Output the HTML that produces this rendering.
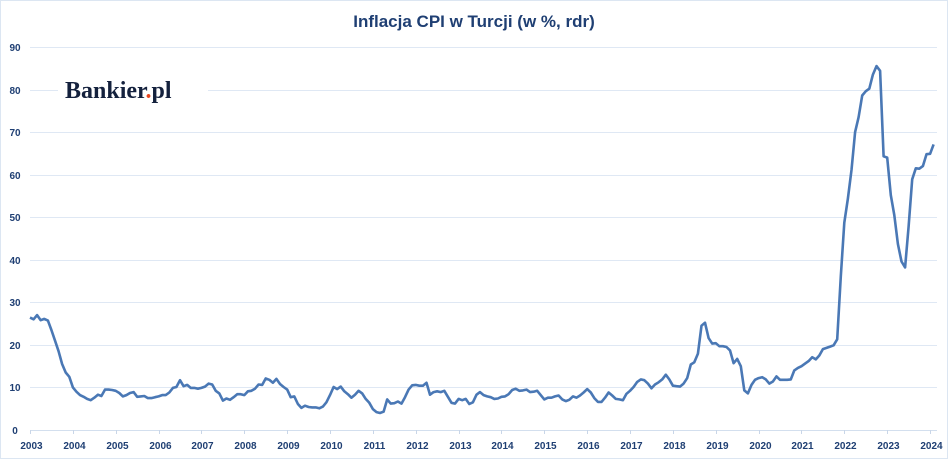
<!DOCTYPE html>
<html><head><meta charset="utf-8"><style>
html,body{margin:0;padding:0;background:#fff;}
body{width:948px;height:459px;overflow:hidden;}
</style></head><body>
<svg width="948" height="459" xmlns="http://www.w3.org/2000/svg" font-family="Liberation Sans, sans-serif">
<rect x="0.5" y="0.5" width="947" height="458" fill="#fff" stroke="#dce6f2"/>
<text x="474" y="27" text-anchor="middle" font-size="17" font-weight="bold" fill="#1f3f73">Inflacja CPI w Turcji (w %, rdr)</text>
<g id="grid" stroke="#dfe8f4" stroke-width="1"></g>
<g id="ylab" font-size="10" font-weight="bold" fill="#1f3f73" text-anchor="middle"></g>
<g id="xlab" font-size="10" font-weight="bold" fill="#1f3f73" text-anchor="middle"></g>
<rect x="58" y="72" width="150" height="34" fill="#fff"/>
<text x="65" y="98" font-family="Liberation Serif, serif" font-weight="bold" font-size="24" fill="#14213d">Bankier<tspan fill="#e8461e">.</tspan>pl</text>
<path id="line" fill="none" stroke="#4a78b5" stroke-width="2.6" stroke-linejoin="round"/>
</svg>
<script>
var d=[26.4,26.0,27.0,25.8,26.1,25.7,23.5,21,18.5,15.5,13.5,12.5,
10,9,8.2,7.8,7.3,7.0,7.6,8.3,8.0,9.5,9.5,9.4,
9.2,8.7,7.9,8.2,8.7,8.9,7.8,7.9,8.0,7.5,7.5,7.7,
7.9,8.2,8.2,8.8,9.9,10.1,11.7,10.3,10.6,9.9,9.9,9.7,
9.9,10.2,10.9,10.7,9.2,8.6,6.9,7.4,7.1,7.7,8.4,8.4,
8.2,9.1,9.2,9.7,10.7,10.6,12.1,11.8,11.1,12.0,10.8,10.1,
9.5,7.7,7.9,6.1,5.2,5.7,5.4,5.3,5.3,5.1,5.5,6.5,
8.2,10.1,9.6,10.2,9.1,8.4,7.6,8.3,9.2,8.6,7.3,6.4,
4.9,4.2,4.0,4.3,7.2,6.2,6.3,6.7,6.2,7.7,9.5,10.5,
10.6,10.4,10.4,11.1,8.3,8.9,9.1,8.9,9.2,7.8,6.4,6.2,
7.3,7.0,7.3,6.1,6.5,8.3,8.9,8.2,7.9,7.7,7.3,7.4,
7.8,7.9,8.4,9.4,9.7,9.2,9.3,9.5,8.9,9.0,9.2,8.2,
7.2,7.6,7.6,7.9,8.1,7.2,6.8,7.1,7.9,7.6,8.1,8.8,
9.6,8.8,7.5,6.6,6.6,7.6,8.8,8.1,7.3,7.2,7.0,8.5,
9.2,10.1,11.3,11.9,11.7,10.9,9.8,10.7,11.2,11.9,13.0,11.9,
10.4,10.3,10.2,10.9,12.2,15.4,15.9,17.9,24.5,25.2,21.6,20.3,
20.4,19.7,19.7,19.5,18.7,15.7,16.7,15.0,9.3,8.6,10.6,11.8,
12.2,12.4,11.9,10.9,11.4,12.6,11.8,11.8,11.8,11.9,14.0,14.6,
15.0,15.6,16.2,17.1,16.6,17.5,19.0,19.3,19.6,19.9,21.3,36.1,
48.7,54.4,61.1,70.0,73.5,78.6,79.6,80.2,83.5,85.5,84.4,64.3,
64.0,55.2,50.5,43.7,39.6,38.2,47.8,58.9,61.5,61.4,62.0,64.8,
64.9,67.1];
function X(i){return 30+i/12*42.86}
function Y(v){return 430-v*4.256}
var p='';for(var i=0;i<d.length;i++)p+=(i?'L':'M')+X(i).toFixed(1)+' '+Y(d[i]).toFixed(1);
document.getElementById('line').setAttribute('d',p);
var ns='http://www.w3.org/2000/svg',g=document.getElementById('grid'),yl=document.getElementById('ylab'),xl=document.getElementById('xlab');
for(var v=0;v<=90;v+=10){var l=document.createElementNS(ns,'line');var y=Math.round(Y(v))+0.5;
l.setAttribute('x1',30);l.setAttribute('x2',937);l.setAttribute('y1',y);l.setAttribute('y2',y);if(v==0)l.setAttribute('stroke','#d3dfee');g.appendChild(l);
var t=document.createElementNS(ns,'text');t.setAttribute('x',15);t.setAttribute('y',y+3.5);t.textContent=v;yl.appendChild(t);}
for(var yr=2003;yr<=2024;yr++){var x=Math.round(30+(yr-2003)*42.86)+0.5;var l=document.createElementNS(ns,'line');
l.setAttribute('x1',x);l.setAttribute('x2',x);l.setAttribute('y1',430);l.setAttribute('y2',434);l.setAttribute('stroke','#c9d6e8');g.appendChild(l);
var t=document.createElementNS(ns,'text');t.setAttribute('x',x+1);t.setAttribute('y',449);t.textContent=yr;xl.appendChild(t);}
</script>
</body></html>
